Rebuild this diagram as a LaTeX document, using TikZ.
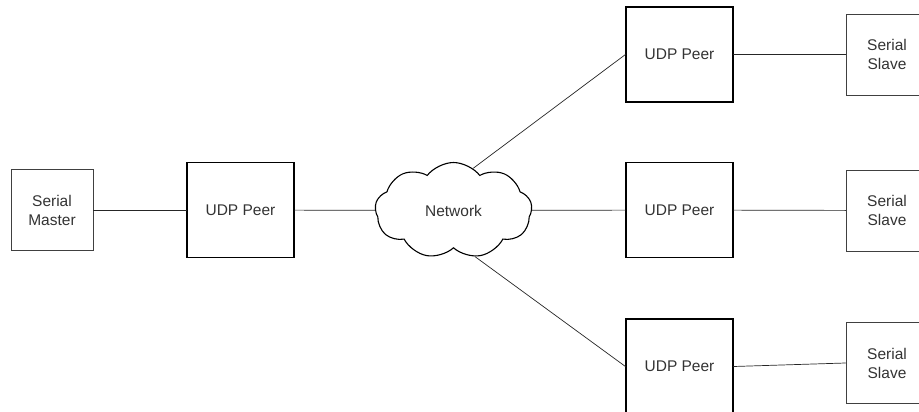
\documentclass[tikz,border=0pt]{standalone}
\usepackage{fontspec}
\setmainfont{Liberation Sans}
\usetikzlibrary{positioning,shapes.symbols}

\tikzset{
  peer/.style={draw, line width=1.1pt, minimum width=107pt, minimum height=95pt, inner sep=0pt},
  serial/.style={draw, draw=black!75, line width=0.8pt, minimum width=82pt, minimum height=81pt, inner sep=0pt, align=center},
  link/.style={line width=0.7pt, draw=black!85}
}

\begin{document}
\begin{tikzpicture}[x=1pt, y=-1pt, every node/.style={font=\fontsize{15.5}{19}\selectfont, text=black!80}, line cap=round]
  \useasboundingbox (0,0) rectangle (919,412);
  \node[serial] (master) at (52,210)    {Serial\\Master};
  \node[peer]   (peerA)  at (240.5,210) {UDP Peer};
  \node[draw, line width=1.1pt, cloud, cloud puffs=9, cloud puff arc=105, aspect=1.6,
        minimum width=157pt, minimum height=96pt, inner sep=0pt] (net) at (453.5,210.5) {Network};
  \node[peer]   (peerB)  at (679.5,54.5)  {UDP Peer};
  \node[peer]   (peerC)  at (679.5,210)   {UDP Peer};
  \node[peer]   (peerD)  at (679.5,366.5) {UDP Peer};
  \node[serial] (slaveB) at (887,54.5)  {Serial\\Slave};
  \node[serial] (slaveC) at (887,210.5) {Serial\\Slave};
  \node[serial] (slaveD) at (887,363)   {Serial\\Slave};
  \draw[link] (master)--(peerA); \draw[link] (peerA)--(net);
  \draw[link] (net.65)--(peerB.west); \draw[link] (net)--(peerC);
  \draw[link] (net.-65)--(peerD.west);
  \draw[link] (peerB)--(slaveB); \draw[link] (peerC)--(slaveC);
  \draw[link] (peerD.east)--(slaveD.west);
\end{tikzpicture}
\end{document}
